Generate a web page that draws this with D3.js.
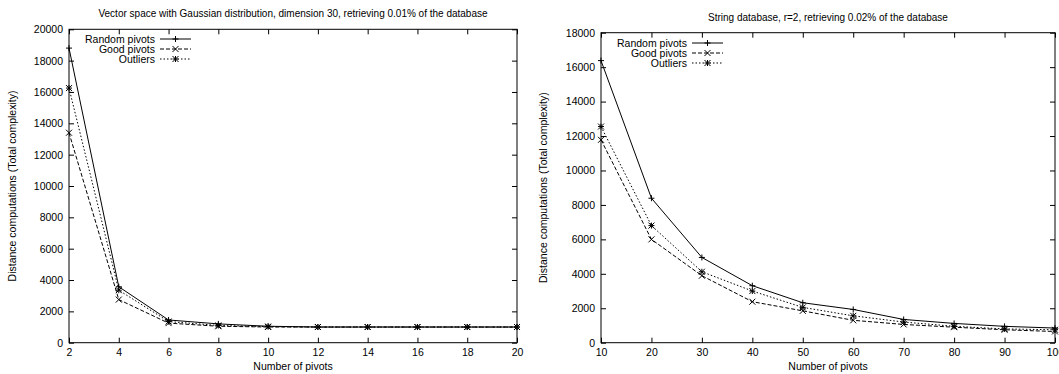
<!DOCTYPE html>
<html>
<head>
<meta charset="utf-8">
<script src="https://cdn.jsdelivr.net/npm/d3@7"></script>
<style>
  body { margin: 0; background: #fff; }
  svg { font-family: "Liberation Sans", Arial, sans-serif; }
</style>
</head>
<body>
<svg id="chart" width="1059" height="374"></svg>
<script>
// left chart: vector space
const pivotsA = [2, 4, 6, 8, 10, 12, 14, 16, 18, 20];
const randomA = [18800, 3570, 1450, 1200, 1050, 1000, 1000, 1000, 1000, 1000];
const goodA = [13400, 2750, 1250, 1050, 1000, 1000, 1000, 1000, 1000, 1000];
const outlierA = [16250, 3350, 1350, 1100, 1030, 1000, 1000, 1000, 1000, 1000];
const xTicksA = [2, 4, 6, 8, 10, 12, 14, 16, 18, 20];
const yTicksA = [0, 2000, 4000, 6000, 8000, 10000, 12000, 14000, 16000, 18000, 20000];

// right chart: strings
const pivotsB = [10, 20, 30, 40, 50, 60, 70, 80, 90, 100];
const randomB = [16380, 8390, 4950, 3310, 2320, 1930, 1350, 1120, 950, 850];
const goodB = [11780, 6000, 3890, 2380, 1850, 1300, 1060, 900, 750, 650];
const outlierB = [12550, 6800, 4120, 3000, 2050, 1560, 1200, 950, 800, 750];
const xTicksB = [10, 20, 30, 40, 50, 60, 70, 80, 90, 100];
const yTicksB = [0, 2000, 4000, 6000, 8000, 10000, 12000, 14000, 16000, 18000];

const seriesNames = ['Random pivots', 'Good pivots', 'Outliers'];

const svg = d3.select('#chart');

const styles = [
  { dash: null, marker: 'plus' },
  { dash: '4,2', marker: 'cross' },
  { dash: '1.5,2', marker: 'star' }
];

function marker(g, type, cx, cy) {
  const s = 3;
  const p = d3.path();
  if (type === 'plus' || type === 'star') {
    p.moveTo(cx - s, cy); p.lineTo(cx + s, cy);
    p.moveTo(cx, cy - s); p.lineTo(cx, cy + s);
  }
  if (type === 'cross' || type === 'star') {
    p.moveTo(cx - s, cy - s); p.lineTo(cx + s, cy + s);
    p.moveTo(cx - s, cy + s); p.lineTo(cx + s, cy - s);
  }
  g.append('path').attr('d', p.toString()).attr('stroke', '#000').attr('stroke-width', 1).attr('fill', 'none');
}

function drawPlot(opt) {
  const g = svg.append('g');
  const x = d3.scaleLinear().domain(opt.xDomain).range([opt.left, opt.right]);
  const y = d3.scaleLinear().domain(opt.yDomain).range([opt.bottom, opt.top]);

  const axisStyle = sel => {
    sel.select('.domain').remove();
    sel.selectAll('line').attr('stroke', '#000');
    sel.selectAll('text').style('font-size', '10.5px').attr('fill', '#000');
  };

  g.append('g').attr('transform', `translate(0,${opt.bottom})`)
    .call(d3.axisBottom(x).tickValues(opt.xTicks).tickSize(-5).tickPadding(6).tickFormat(d3.format('d')))
    .call(axisStyle);
  g.append('g').attr('transform', `translate(0,${opt.top})`)
    .call(d3.axisTop(x).tickValues(opt.xTicks).tickSize(-5).tickFormat(''))
    .call(axisStyle);
  g.append('g').attr('transform', `translate(${opt.left},0)`)
    .call(d3.axisLeft(y).tickValues(opt.yTicks).tickSize(-5).tickPadding(6).tickFormat(d3.format('d')))
    .call(axisStyle);
  g.append('g').attr('transform', `translate(${opt.right},0)`)
    .call(d3.axisRight(y).tickValues(opt.yTicks).tickSize(-5).tickFormat(''))
    .call(axisStyle);

  g.append('rect')
    .attr('x', opt.left).attr('y', opt.top)
    .attr('width', opt.right - opt.left).attr('height', opt.bottom - opt.top)
    .attr('fill', 'none').attr('stroke', '#000').attr('stroke-width', 1);

  const line = d3.line().x(d => x(d[0])).y(d => y(d[1]));
  opt.series.forEach((vals, i) => {
    const pts = opt.xs.map((v, j) => [v, vals[j]]);
    g.append('path').datum(pts)
      .attr('d', line)
      .attr('fill', 'none').attr('stroke', '#000').attr('stroke-width', 1)
      .attr('stroke-dasharray', styles[i].dash);
    pts.forEach(p => marker(g, styles[i].marker, x(p[0]), y(p[1])));
  });

  // legend
  seriesNames.forEach((name, i) => {
    const ly = opt.legendY + i * 10;
    g.append('text').attr('x', opt.legendX).attr('y', ly).attr('dy', '0.35em')
      .attr('text-anchor', 'end').style('font-size', '10.5px').text(name);
    g.append('line')
      .attr('x1', opt.legendX + 5).attr('x2', opt.legendX + 36)
      .attr('y1', ly).attr('y2', ly)
      .attr('stroke', '#000').attr('stroke-width', 1)
      .attr('stroke-dasharray', styles[i].dash);
    marker(g, styles[i].marker, opt.legendX + 20.5, ly);
  });

  g.append('text')
    .attr('x', (opt.left + opt.right) / 2).attr('y', opt.titleY)
    .attr('text-anchor', 'middle').style('font-size', '10px').text(opt.title);
  g.append('text')
    .attr('x', (opt.left + opt.right) / 2).attr('y', 370)
    .attr('text-anchor', 'middle').style('font-size', '10.5px').text('Number of pivots');
  g.append('text')
    .attr('transform', `translate(${opt.yLabelX},${(opt.top + opt.bottom) / 2}) rotate(-90)`)
    .attr('text-anchor', 'middle').style('font-size', '10.5px')
    .text('Distance computations (Total complexity)');
}

drawPlot({
  left: 69, right: 517, top: 29.3, bottom: 342.7,
  xDomain: [2, 20], yDomain: [0, 20000],
  xTicks: xTicksA, yTicks: yTicksA,
  xs: pivotsA, series: [randomA, goodA, outlierA],
  legendX: 155, legendY: 39,
  title: 'Vector space with Gaussian distribution, dimension 30, retrieving 0.01% of the database',
  titleY: 17, yLabelX: 16
});

drawPlot({
  left: 601, right: 1055, top: 32.7, bottom: 342.7,
  xDomain: [10, 100], yDomain: [0, 18000],
  xTicks: xTicksB, yTicks: yTicksB,
  xs: pivotsB, series: [randomB, goodB, outlierB],
  legendX: 687, legendY: 43,
  title: 'String database, r=2, retrieving 0.02% of the database',
  titleY: 21, yLabelX: 547
});
</script>
</body>
</html>
